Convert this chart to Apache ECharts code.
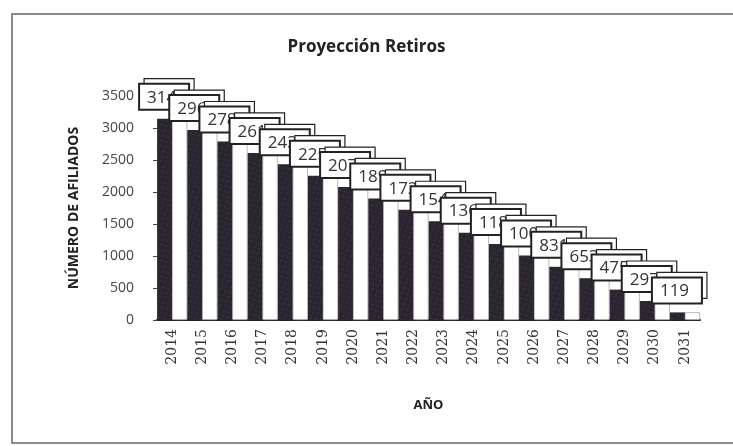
<!DOCTYPE html>
<html>
<head>
<meta charset="utf-8">
<script src="https://cdn.jsdelivr.net/npm/echarts@6/dist/echarts.min.js"></script>
<style>
  html, body { margin: 0; padding: 0; background: #fff; }
  #chart { width: 733px; height: 446px; }
</style>
</head>
<body>
<div id="chart"></div>
<script>
'use strict';

const years = ['2014', '2015', '2016', '2017', '2018', '2019', '2020', '2021', '2022',
  '2023', '2024', '2025', '2026', '2027', '2028', '2029', '2030', '2031'];
const afiliados = [3145, 2967, 2789, 2611, 2433, 2255, 2077, 1899, 1721,
  1543, 1365, 1187, 1009, 831, 653, 475, 297, 119];
const yTicks = [0, 500, 1000, 1500, 2000, 2500, 3000, 3500];

const chart = echarts.init(document.getElementById('chart'));

// etiquetas tipo caja de Excel: cada caja tapa parte de la anterior
function renderLabel(params, api) {
  const pt = api.coord([api.value(0), api.value(1)]);
  const w = 50, h = 26;
  const left = pt[0] - 33;
  const top = pt[1] - 9 - h;
  return {
    type: 'group',
    children: [
      {
        type: 'rect',
        shape: {x: left + 5, y: top - 5, width: w, height: h},
        style: {fill: '#fff', stroke: '#222', lineWidth: 1.2}
      },
      {
        type: 'rect',
        shape: {x: left, y: top, width: w, height: h},
        style: {fill: '#fff', stroke: '#222', lineWidth: 2}
      },
      {
        type: 'text',
        style: {
          x: left + 8,
          y: top + h / 2 + 1,
          text: String(api.value(1)),
          verticalAlign: 'middle',
          font: '17px "Open Sans"',
          fill: '#333'
        }
      }
    ]
  };
}

const option = {
  animation: false,
  backgroundColor: '#fff',
  title: {
    text: 'Proyección Retiros',
    left: 'center',
    top: 34,
    textStyle: {fontFamily: 'Open Sans', fontWeight: 'bold', fontSize: 17, color: '#222'}
  },
  graphic: [{
    type: 'rect',
    shape: {x: 12, y: 14, width: 740, height: 429},
    style: {fill: 'none', stroke: '#666', lineWidth: 1.5},
    silent: true
  }],
  grid: {left: 157, right: 33, top: 96, bottom: 126},
  xAxis: {
    type: 'category',
    data: years,
    name: 'AÑO',
    nameLocation: 'middle',
    nameGap: 79,
    nameTextStyle: {fontFamily: 'Open Sans', fontWeight: 'bold', fontSize: 13, color: '#222'},
    axisLine: {show: true, lineStyle: {color: '#222', width: 2}},
    axisTick: {show: false},
    axisLabel: {
      rotate: 90,
      margin: 9,
      fontFamily: 'DejaVu Serif',
      fontSize: 14,
      color: '#333'
    }
  },
  yAxis: {
    type: 'value',
    min: yTicks[0],
    max: yTicks[yTicks.length - 1],
    interval: 500,
    name: 'NÚMERO DE AFILIADOS',
    nameLocation: 'middle',
    nameGap: 76,
    nameTextStyle: {fontFamily: 'Open Sans', fontWeight: 'bold', fontSize: 14, color: '#222'},
    axisLine: {show: false},
    axisTick: {show: true, length: 4, lineStyle: {color: '#444'}},
    splitLine: {show: false},
    axisLabel: {
      margin: 23,
      fontFamily: 'Open Sans',
      fontSize: 14,
      color: '#444',
      formatter: (v) => String(v)
    }
  },
  series: [
    {
      // cara oscura de la columna 3D
      type: 'bar',
      data: afiliados,
      barWidth: 15,
      barGap: 0,
      itemStyle: {
        color: '#2a2530',
        decal: {
          symbol: 'circle',
          symbolSize: 0.6,
          color: 'rgba(190,180,200,0.35)',
          dashArrayX: [2, 3],
          dashArrayY: [2, 3],
          rotation: 0.3
        }
      },
      silent: true
    },
    {
      type: 'bar',
      data: afiliados,
      barWidth: 15,
      itemStyle: {color: '#fff', borderColor: '#777', borderWidth: 0.5},
      silent: true
    },
    {
      type: 'custom',
      data: afiliados.map((v, i) => [i, v]),
      renderItem: renderLabel,
      clip: false,
      silent: true,
      z: 5
    }
  ]
};

chart.setOption(option);
</script>
</body>
</html>
